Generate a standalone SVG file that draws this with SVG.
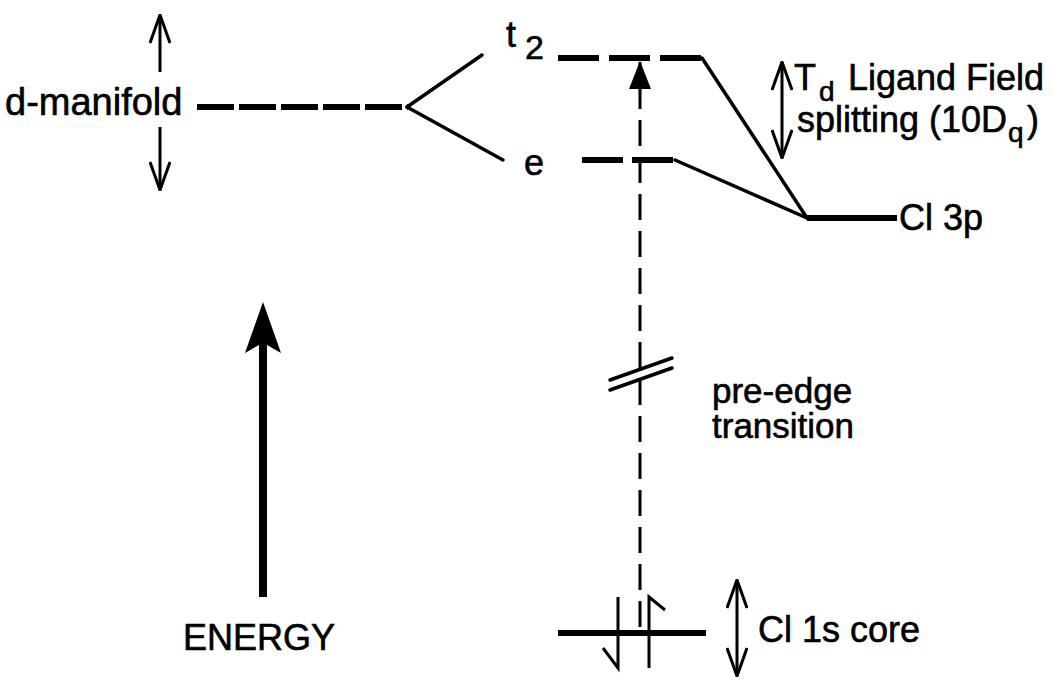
<svg xmlns="http://www.w3.org/2000/svg" width="1056" height="680" viewBox="0 0 1056 680">
<style>
text{font-family:"Liberation Sans",Arial,Helvetica,sans-serif;font-size:36px;fill:#000;stroke:#000;stroke-width:0.6}
.lvl{stroke:#000;stroke-width:6;fill:none}
.ln{stroke:#000;stroke-width:3.5;fill:none;stroke-linecap:round}
.thin{stroke:#000;stroke-width:3;fill:none}
.sub{font-size:28px}
</style>
<defs>
<marker id="vee" markerUnits="userSpaceOnUse" viewBox="0 0 30 22" refX="29" refY="11" markerWidth="30" markerHeight="22" orient="auto-start-reverse">
<path d="M1,1 L29,11 L1,21" fill="none" stroke="#000" stroke-width="3"/>
</marker>
<marker id="tri" markerUnits="userSpaceOnUse" viewBox="0 0 28 22" refX="27" refY="11" markerWidth="28" markerHeight="22" orient="auto">
<path d="M0,0 L28,11 L0,22 Z" fill="#000"/>
</marker>
</defs>
<rect width="1056" height="680" fill="#fff"/>

<g id="d-manifold">
<line class="lvl" x1="197" y1="107" x2="408" y2="107" stroke-dasharray="37 5"/>
<text x="5" y="115" style="font-size:38px">d-manifold</text>
<line class="thin" x1="160" y1="72" x2="160" y2="15" marker-end="url(#vee)"/>
<line class="thin" x1="160" y1="127" x2="160" y2="190" marker-end="url(#vee)"/>
</g>

<g id="t2-level">
<line class="lvl" x1="558" y1="58" x2="702" y2="58" stroke-dasharray="41 10"/>
<text x="506" y="47">t<tspan x="525" y="59" style="font-size:34px">2</tspan></text>
</g>

<g id="e-level">
<line class="lvl" x1="582" y1="160" x2="675" y2="160" stroke-dasharray="41 9"/>
<text x="524" y="175">e</text>
</g>

<g id="cl3p-level">
<line class="lvl" x1="807" y1="218" x2="897" y2="218"/>
<text x="899" y="230">Cl 3p</text>
</g>

<g id="splitting-label">
<line class="thin" x1="782" y1="62" x2="782" y2="158" marker-start="url(#vee)" marker-end="url(#vee)"/>
<text x="794" y="90">T<tspan x="819" y="101" class="sub">d</tspan><tspan x="848" y="90">Ligand Field</tspan></text>
<text x="797" y="132">splitting (10D<tspan x="1008" y="142" class="sub">q</tspan><tspan x="1027" y="132">)</tspan></text>
</g>

<g id="cl1s-level">
<line class="lvl" x1="558" y1="633" x2="706" y2="633"/>
<path class="thin" d="M618,597 L618,668 L603,648"/>
<path class="thin" d="M649,668 L649,597 L665,610"/>
<line class="thin" x1="737" y1="580" x2="737" y2="676" marker-start="url(#vee)" marker-end="url(#vee)"/>
<text x="758" y="642">Cl 1s core</text>
</g>

<g id="energy-axis">
<path d="M263,302 L281,353 L267,345 L267,597 L259,597 L259,345 L245,353 Z" fill="#000"/>
<text x="183" y="650">ENERGY</text>
</g>

<g id="transition-label">
<text x="712" y="403" style="font-size:35px">pre-edge<tspan x="712" y="438">transition</tspan></text>
</g>

<g id="connectors">
<line class="ln" x1="407" y1="107" x2="482" y2="55"/>
<line class="ln" x1="407" y1="107" x2="503" y2="160"/>
<line class="ln" x1="702" y1="58" x2="807" y2="218"/>
<line class="ln" x1="675" y1="160" x2="807" y2="218"/>
<line class="thin" x1="640" y1="627" x2="640" y2="90" stroke-dasharray="26 11"/>
<line class="thin" x1="640" y1="91" x2="640" y2="62" marker-end="url(#tri)"/>
<line class="ln" x1="610" y1="380" x2="672" y2="358"/>
<line class="ln" x1="610" y1="390" x2="672" y2="368"/>
</g>
</svg>
